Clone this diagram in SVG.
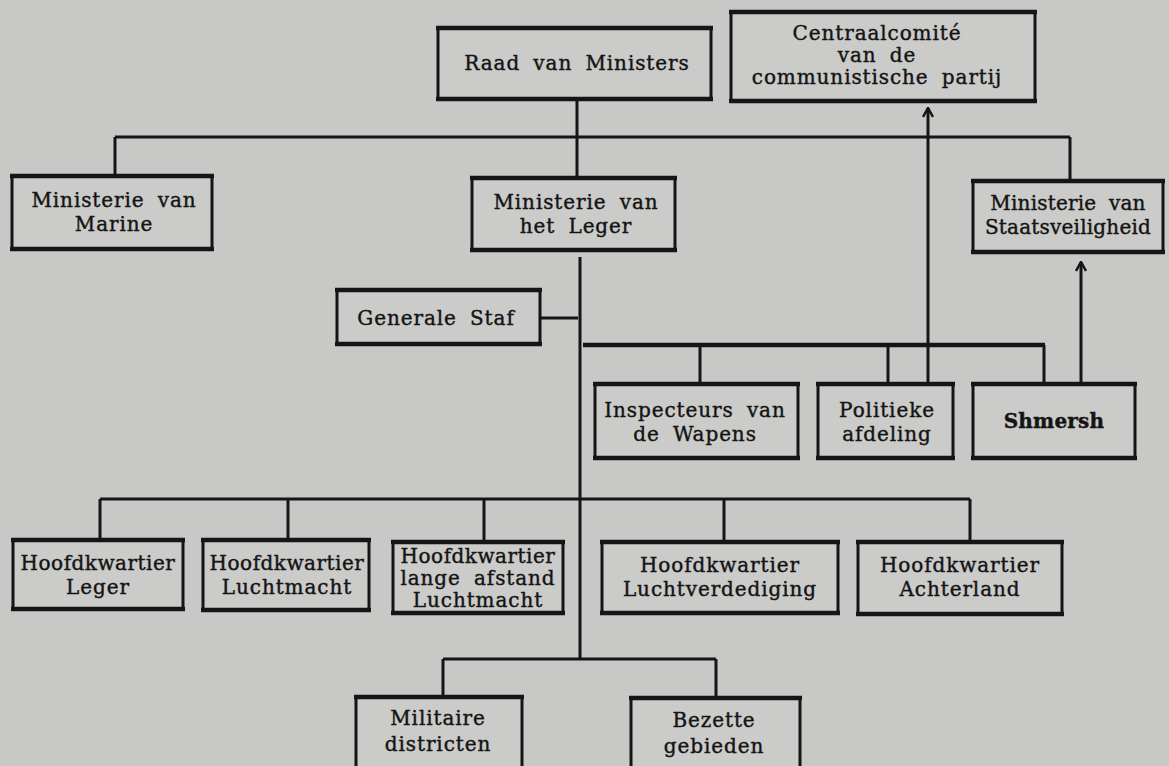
<svg xmlns="http://www.w3.org/2000/svg" width="1169" height="766" viewBox="0 0 1169 766">
<defs>
<style>
.bg{fill:#c8c8c6}
.box{fill:#cbcbc9;stroke:#151515;stroke-width:3}
.hb{stroke:#151515;stroke-width:4.5;fill:none}
.ln{stroke:#151515;stroke-width:3;fill:none}
text{font-family:"DejaVu Serif","Liberation Serif",serif;font-size:20px;fill:#141414;stroke:#141414;stroke-width:0.4;text-anchor:middle;letter-spacing:0.9px;word-spacing:6px}
</style>
<marker id="arr" viewBox="0 0 12 12" refX="6" refY="1" markerWidth="12" markerHeight="12" markerUnits="userSpaceOnUse" orient="0">
<path d="M1,10 L6,1 L11,10" fill="none" stroke="#151515" stroke-width="2.5"/>
</marker>
</defs>
<rect class="bg" x="0" y="0" width="1169" height="766"/>
<g id="connectors">
<path class="ln" d="M577,99 V137"/>
<path class="ln" d="M115,137 H1070"/>
<path class="ln" d="M115,137 V176 M577,137 V178 M1070,137 V181"/>
<path class="ln" d="M580,257 V659"/>
<path class="ln" d="M540,318 H578"/>
<path class="hb" d="M583,345 H1045"/>
<path class="ln" d="M700,345 V384 M888,345 V384 M1044,345 V384"/>
<path class="ln" d="M928,384 V108" marker-end="url(#arr)"/>
<path class="ln" d="M1081,384 V262" marker-end="url(#arr)"/>
<path class="ln" d="M100,499 H970"/>
<path class="ln" d="M100,499 V540 M288,499 V540 M484,499 V542 M724,499 V542 M970,499 V542"/>
<path class="ln" d="M443,659 H716"/>
<path class="ln" d="M443,659 V697 M716,659 V697"/>
</g>
<g id="raad">
<rect class="box" x="438" y="28" width="273" height="71"/>
<path class="hb" d="M436,28 H713 M436,99 H713"/>
<text x="577" y="70">Raad van Ministers</text>
</g>
<g id="centraal">
<rect class="box" x="731" y="12" width="304" height="89"/>
<path class="hb" d="M729,12 H1037 M729,101 H1037"/>
<text x="877" y="40">Centraalcomité</text>
<text x="877" y="62">van de</text>
<text x="877" y="84">communistische partij</text>
</g>
<g id="marine">
<rect class="box" x="12" y="176" width="200" height="73"/>
<path class="hb" d="M10,176 H214 M10,249 H214"/>
<text x="114" y="207">Ministerie van</text>
<text x="114" y="231">Marine</text>
</g>
<g id="leger">
<rect class="box" x="472" y="178" width="203" height="72"/>
<path class="hb" d="M470,178 H677 M470,250 H677"/>
<text x="576" y="209">Ministerie van</text>
<text x="576" y="233">het Leger</text>
</g>
<g id="staatsveiligheid">
<rect class="box" x="973" y="181" width="190" height="71"/>
<path class="hb" d="M971,181 H1165 M971,252 H1165"/>
<text x="1068" y="210" style="letter-spacing:0.2px">Ministerie van</text>
<text x="1068" y="234" style="letter-spacing:0.2px">Staatsveiligheid</text>
</g>
<g id="generale-staf">
<rect class="box" x="337" y="290" width="203" height="54"/>
<path class="hb" d="M335,290 H542 M335,344 H542"/>
<text x="436" y="325">Generale Staf</text>
</g>
<g id="inspecteurs">
<rect class="box" x="595" y="384" width="203" height="74"/>
<path class="hb" d="M593,384 H800 M593,458 H800"/>
<text x="695" y="417">Inspecteurs van</text>
<text x="695" y="441">de Wapens</text>
</g>
<g id="politieke">
<rect class="box" x="818" y="384" width="135" height="74"/>
<path class="hb" d="M816,384 H955 M816,458 H955"/>
<text x="887" y="417">Politieke</text>
<text x="887" y="441">afdeling</text>
</g>
<g id="shmersh">
<rect class="box" x="973" y="384" width="162" height="74"/>
<path class="hb" d="M971,384 H1137 M971,458 H1137"/>
<text x="1054" y="428" style="font-weight:bold;letter-spacing:0.2px">Shmersh</text>
</g>
<g id="hk-leger">
<rect class="box" x="13" y="540" width="170" height="69"/>
<path class="hb" d="M11,540 H185 M11,609 H185"/>
<text x="98" y="570" style="letter-spacing:0.5px">Hoofdkwartier</text>
<text x="98" y="594">Leger</text>
</g>
<g id="hk-luchtmacht">
<rect class="box" x="203" y="540" width="166" height="70"/>
<path class="hb" d="M201,540 H371 M201,610 H371"/>
<text x="287" y="570" style="letter-spacing:0.5px">Hoofdkwartier</text>
<text x="287" y="594">Luchtmacht</text>
</g>
<g id="hk-lange-afstand">
<rect class="box" x="393" y="542" width="170" height="71"/>
<path class="hb" d="M391,542 H565 M391,613 H565"/>
<text x="478" y="563" style="letter-spacing:0.5px">Hoofdkwartier</text>
<text x="478" y="585">lange afstand</text>
<text x="478" y="607">Luchtmacht</text>
</g>
<g id="hk-luchtverdediging">
<rect class="box" x="602" y="542" width="236" height="71"/>
<path class="hb" d="M600,542 H840 M600,613 H840"/>
<text x="720" y="572">Hoofdkwartier</text>
<text x="720" y="596">Luchtverdediging</text>
</g>
<g id="hk-achterland">
<rect class="box" x="858" y="542" width="204" height="72"/>
<path class="hb" d="M856,542 H1064 M856,614 H1064"/>
<text x="960" y="572">Hoofdkwartier</text>
<text x="960" y="596">Achterland</text>
</g>
<g id="militaire">
<rect class="box" x="356" y="697" width="166" height="75"/>
<path class="hb" d="M354,697 H524"/>
<text x="438" y="725">Militaire</text>
<text x="438" y="751">districten</text>
</g>
<g id="bezette">
<rect class="box" x="631" y="698" width="169" height="75"/>
<path class="hb" d="M629,698 H802"/>
<text x="714" y="727">Bezette</text>
<text x="714" y="753">gebieden</text>
</g>
</svg>
